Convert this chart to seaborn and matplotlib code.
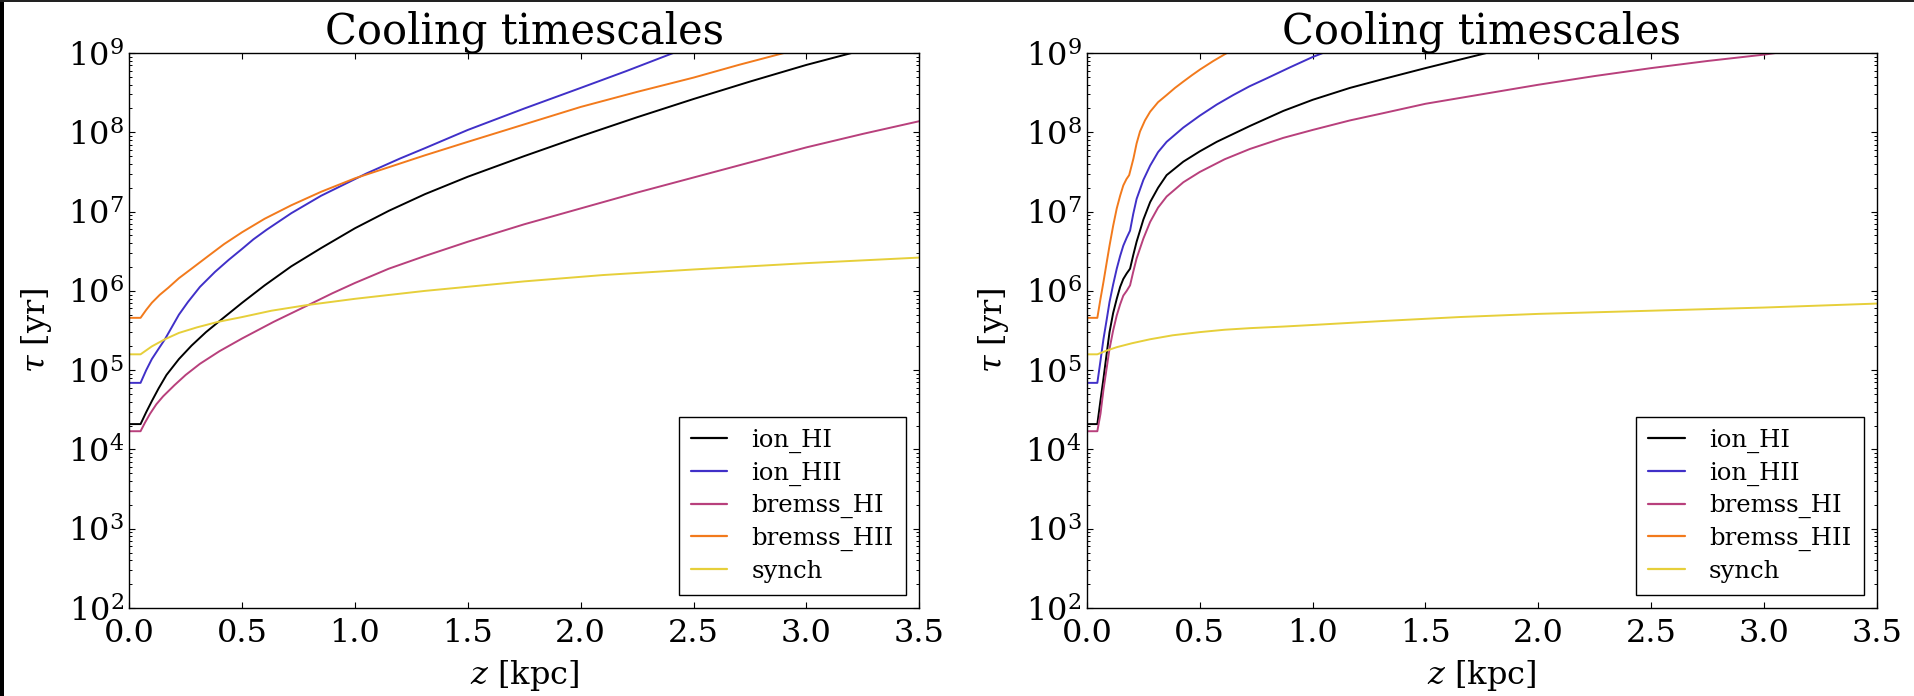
import numpy as np
import pandas as pd
import matplotlib
matplotlib.use("Agg")
import matplotlib.pyplot as plt
from matplotlib.patches import Rectangle
from matplotlib.ticker import NullLocator
import seaborn as sns

# ---------------- data (log10 of tau [yr]) ----------------
series_names = ["ion_HI", "ion_HII", "bremss_HI", "bremss_HII", "synch"]
series_colors = ["#000000", "#4030c8", "#b8407c", "#f27a1c", "#e6cf3a"]

# Left panel
L_ionHI_z = [0, 0.05, 0.075, 0.10, 0.13, 0.165, 0.22, 0.276, 0.34, 0.40, 0.50, 0.60, 0.718, 0.85,
             1.0, 1.15, 1.31, 1.5, 1.75, 2.0, 2.25, 2.5, 2.75, 3.0, 3.2]
L_ionHI_t = [4.32, 4.32, 4.47, 4.61, 4.77, 4.94, 5.14, 5.31, 5.48, 5.62, 5.85, 6.07, 6.31, 6.54,
             6.79, 7.01, 7.22, 7.44, 7.70, 7.95, 8.19, 8.42, 8.64, 8.85, 9.0]

L_ionHII_z = [0, 0.05, 0.075, 0.10, 0.13, 0.158, 0.19, 0.22, 0.26, 0.313, 0.38, 0.44, 0.50, 0.55,
              0.608, 0.718, 0.85, 1.05, 1.2, 1.31, 1.5, 1.75, 2.0, 2.2, 2.41]
L_ionHII_t = [4.84, 4.84, 5.00, 5.14, 5.27, 5.39, 5.55, 5.70, 5.86, 6.05, 6.24, 6.39, 6.53, 6.65,
              6.77, 6.98, 7.20, 7.48, 7.67, 7.80, 8.03, 8.30, 8.56, 8.77, 9.0]

L_bremHI_z = [0, 0.05, 0.07, 0.092, 0.12, 0.15, 0.20, 0.25, 0.313, 0.40, 0.50, 0.64, 0.785, 0.90,
              1.0, 1.15, 1.31, 1.5, 1.75, 2.0, 2.25, 2.5, 2.75, 3.0, 3.25, 3.5]
L_bremHI_t = [4.23, 4.23, 4.34, 4.45, 4.57, 4.67, 4.81, 4.94, 5.08, 5.24, 5.40, 5.61, 5.81, 5.97,
              6.10, 6.28, 6.44, 6.62, 6.84, 7.04, 7.24, 7.43, 7.62, 7.81, 7.98, 8.14]

L_bremHII_z = [0, 0.05, 0.075, 0.10, 0.135, 0.173, 0.22, 0.276, 0.35, 0.42, 0.50, 0.60, 0.718, 0.85,
               1.0, 1.15, 1.31, 1.5, 1.75, 2.0, 2.25, 2.5, 2.7, 2.9]
L_bremHII_t = [5.66, 5.66, 5.76, 5.85, 5.95, 6.04, 6.16, 6.28, 6.44, 6.59, 6.74, 6.91, 7.08, 7.25,
               7.42, 7.56, 7.71, 7.88, 8.10, 8.32, 8.51, 8.69, 8.85, 9.0]

L_synch_z = [0, 0.05, 0.10, 0.158, 0.22, 0.30, 0.394, 0.50, 0.63, 0.785, 1.0, 1.31, 1.75, 2.1,
             2.5, 3.0, 3.5]
L_synch_t = [5.20, 5.20, 5.30, 5.39, 5.47, 5.54, 5.61, 5.67, 5.75, 5.82, 5.90, 6.00, 6.12, 6.20,
             6.27, 6.35, 6.42]

# Right panel
R_ionHI_z = [0, 0.046, 0.06, 0.073, 0.087, 0.10, 0.116, 0.132, 0.147, 0.161, 0.176, 0.191, 0.205,
             0.22, 0.25, 0.28, 0.315, 0.353, 0.427, 0.50, 0.575, 0.722, 0.87, 1.0, 1.165, 1.31,
             1.5, 1.77]
R_ionHI_t = [4.32, 4.32, 4.62, 4.89, 5.20, 5.48, 5.72, 5.90, 6.05, 6.15, 6.22, 6.28, 6.45,
             6.62, 6.90, 7.12, 7.30, 7.46, 7.63, 7.76, 7.88, 8.08, 8.27, 8.41, 8.56, 8.67,
             8.81, 9.0]

R_ionHII_z = [0, 0.046, 0.06, 0.073, 0.087, 0.10, 0.116, 0.132, 0.147, 0.161, 0.176, 0.191, 0.205,
              0.22, 0.25, 0.28, 0.315, 0.353, 0.427, 0.50, 0.575, 0.648, 0.72, 0.796, 0.90, 1.0,
              1.045]
R_ionHII_t = [4.84, 4.84, 5.12, 5.39, 5.63, 5.86, 6.08, 6.28, 6.44, 6.57, 6.67, 6.76, 6.97,
              7.16, 7.40, 7.58, 7.75, 7.88, 8.06, 8.21, 8.35, 8.47, 8.58, 8.68, 8.82, 8.95,
              9.0]

R_bremHI_z = [0, 0.046, 0.06, 0.073, 0.087, 0.10, 0.116, 0.132, 0.147, 0.161, 0.176, 0.191, 0.205,
              0.22, 0.25, 0.28, 0.315, 0.353, 0.427, 0.50, 0.61, 0.722, 0.87, 1.0, 1.165, 1.31,
              1.5, 1.75, 2.0, 2.25, 2.5, 2.75, 3.0, 3.05]
R_bremHI_t = [4.23, 4.23, 4.45, 4.75, 5.02, 5.27, 5.50, 5.69, 5.83, 5.94, 6.00, 6.07, 6.24,
              6.41, 6.66, 6.87, 7.05, 7.19, 7.37, 7.50, 7.66, 7.79, 7.93, 8.03, 8.15, 8.24,
              8.36, 8.48, 8.60, 8.71, 8.81, 8.90, 8.98, 9.0]

R_bremHII_z = [0, 0.046, 0.06, 0.073, 0.087, 0.10, 0.116, 0.132, 0.147, 0.161, 0.175, 0.187, 0.206,
               0.22, 0.235, 0.257, 0.28, 0.315, 0.353, 0.39, 0.427, 0.465, 0.50, 0.56, 0.62]
R_bremHII_t = [5.66, 5.66, 5.90, 6.11, 6.35, 6.57, 6.82, 7.04, 7.20, 7.33, 7.41, 7.46, 7.67,
               7.86, 8.01, 8.15, 8.26, 8.38, 8.47, 8.56, 8.64, 8.72, 8.79, 8.90, 9.0]

R_synch_z = [0, 0.046, 0.09, 0.132, 0.20, 0.28, 0.38, 0.50, 0.61, 0.722, 0.87, 1.0, 1.31, 1.65,
             2.0, 2.5, 3.0, 3.5]
R_synch_t = [5.20, 5.20, 5.25, 5.29, 5.34, 5.39, 5.44, 5.48, 5.51, 5.53, 5.55, 5.57, 5.62, 5.67,
             5.71, 5.75, 5.79, 5.84]

x_ticks = [0.0, 0.5, 1.0, 1.5, 2.0, 2.5, 3.0, 3.5]
title_text = "Cooling timescales"
xlabel_text = r"$z$ [kpc]"
ylabel_text = r"$\tau$ [yr]"

panels = {
    "left": [(L_ionHI_z, L_ionHI_t), (L_ionHII_z, L_ionHII_t), (L_bremHI_z, L_bremHI_t),
             (L_bremHII_z, L_bremHII_t), (L_synch_z, L_synch_t)],
    "right": [(R_ionHI_z, R_ionHI_t), (R_ionHII_z, R_ionHII_t), (R_bremHI_z, R_bremHI_t),
              (R_bremHII_z, R_bremHII_t), (R_synch_z, R_synch_t)],
}

frames = []
for pname, lst in panels.items():
    for name, (zz, tt) in zip(series_names, lst):
        frames.append(pd.DataFrame({"z": zz, "tau": 10.0 ** np.asarray(tt),
                                    "series": name, "panel": pname}))
df = pd.concat(frames, ignore_index=True)

# ---------------- style ----------------
sns.set_style("ticks")
plt.rcParams.update({
    "font.family": ["DejaVu Serif"],
    "mathtext.fontset": "dejavuserif",
    "xtick.direction": "in",
    "ytick.direction": "in",
    "xtick.top": True,
    "ytick.right": True,
    "xtick.major.size": 4.5,
    "ytick.major.size": 4.5,
    "xtick.minor.size": 2.5,
    "ytick.minor.size": 2.5,
    "xtick.major.width": 0.8,
    "ytick.major.width": 0.8,
    "ytick.minor.width": 0.7,
    "axes.linewidth": 1.0,
    "axes.edgecolor": "black",
    "xtick.color": "black",
    "ytick.color": "black",
    "text.color": "black",
    "axes.labelcolor": "black",
})

fig = plt.figure(figsize=(19.15, 6.96), dpi=100)
fig.patch.set_facecolor("white")
ax_pos = [[0.0675, 0.1264, 0.4125, 0.7974], [0.5676, 0.1264, 0.4125, 0.7974]]

for pos, pname in zip(ax_pos, ["left", "right"]):
    ax = fig.add_axes(pos)
    ax.set_yscale("log")
    sns.lineplot(data=df[df.panel == pname], x="z", y="tau", hue="series",
                 hue_order=series_names, palette=series_colors, estimator=None,
                 sort=False, linewidth=1.4, ax=ax)
    ax.set_xlim(0, 3.5)
    ax.set_ylim(1e2, 1e9)
    ax.set_xticks(x_ticks)
    ax.set_xticklabels([f"{v:.1f}" for v in x_ticks])
    ax.xaxis.set_minor_locator(NullLocator())
    ax.tick_params(axis="x", which="both", labelsize=23, pad=7)
    ax.tick_params(axis="y", which="both", labelsize=23, pad=4)
    ax.set_title(title_text, fontsize=30, pad=6)
    ax.set_xlabel(xlabel_text, fontsize=23, labelpad=7)
    ax.set_ylabel(ylabel_text, fontsize=23, labelpad=10)
    h, l = ax.get_legend_handles_labels()
    leg = ax.legend(h, l, loc="lower right", fontsize=17.5, frameon=True, fancybox=False,
                    edgecolor="black", framealpha=1, handlelength=1.5, handletextpad=1.0,
                    labelspacing=0.35, borderpad=0.5, borderaxespad=0.55)
    leg.get_frame().set_linewidth(1.0)
    for line in leg.get_lines():
        line.set_linewidth(1.6)

# thin dark border strips seen at the image edges
fig.patches.append(Rectangle((0, 0), 4 / 1915, 1, transform=fig.transFigure,
                             facecolor="black", edgecolor="none", zorder=10))
fig.patches.append(Rectangle((0, 1 - 1.5 / 696), 1, 1.5 / 696, transform=fig.transFigure,
                             facecolor="#222222", edgecolor="none", zorder=10))

fig.savefig("out.png", dpi=100)
